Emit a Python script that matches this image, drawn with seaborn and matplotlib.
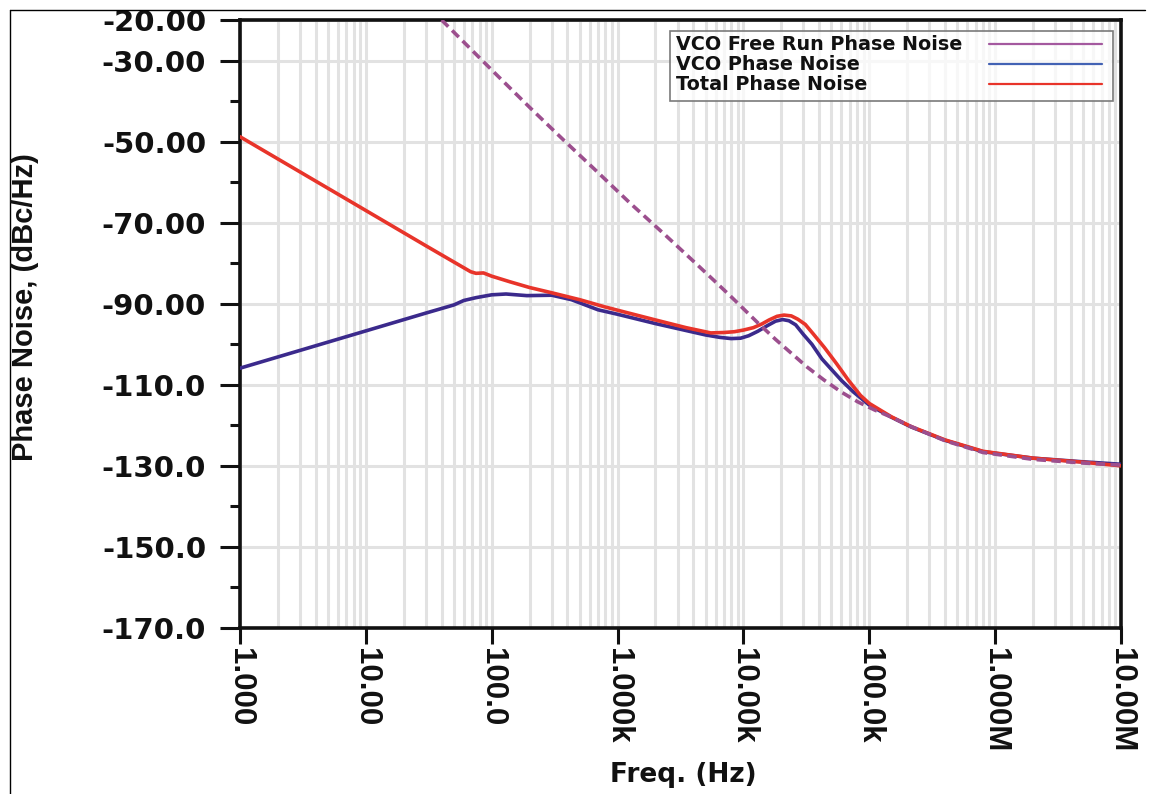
import matplotlib
matplotlib.use("Agg")
import matplotlib.pyplot as plt
from matplotlib import font_manager
from matplotlib.lines import Line2D
from matplotlib.patches import Rectangle
from matplotlib.ticker import LogLocator, NullFormatter
import pandas as pd
import seaborn as sns

# ---- data: offset frequency (Hz) and phase noise (dBc/Hz) ----
free_run_freq = [40, 110, 204, 372, 692, 1259, 2344, 4266, 5900, 7943, 12900,
                 18000, 24000, 32000, 43600, 60000, 81000, 110000, 148000,
                 215000, 400000, 800000, 2e6, 5e6, 1e7]
free_run_pn = [-20.0, -33.6, -41.8, -49.6, -57.5, -65.2, -72.8, -80.3, -84.4,
               -88.2, -94.6, -98.8, -102.2, -105.6, -108.8, -111.8, -114.2,
               -116.2, -117.9, -120.3, -123.8, -126.7, -128.4, -129.3, -129.8]

vco_freq = [1, 10, 30, 50, 60, 75, 100, 130, 190, 300, 430, 700, 1000, 2000,
            5000, 6500, 8000, 9500, 11000, 13000, 15500, 18000, 20500, 23000,
            26000, 30000, 35000, 42000, 50000, 60000, 75000, 100000, 150000,
            215000, 400000, 800000, 2e6, 5e6, 1e7]
vco_pn = [-105.9, -96.7, -92.3, -90.3, -89.2, -88.5, -87.8, -87.6, -88.0, -87.9,
          -89.0, -91.5, -92.6, -94.9, -97.7, -98.3, -98.6, -98.5, -97.9, -96.8,
          -95.4, -94.3, -93.9, -94.2, -95.2, -97.6, -100.0, -103.6, -106.2,
          -108.9, -111.8, -115.0, -118.0, -120.4, -123.7, -126.5, -128.1,
          -129.0, -129.6]

total_freq = [1, 10, 30, 50, 68, 75, 86, 100, 140, 200, 300, 500, 776, 1000, 2000,
              3500, 5500, 7000, 8500, 10000, 12000, 14000, 16000, 18500, 21000,
              24000, 27000, 31000, 36000, 44000, 55000, 68000, 85000, 100000,
              150000, 215000, 400000, 800000, 2e6, 5e6, 1e7]
total_pn = [-48.8, -67.0, -75.7, -79.7, -82.1, -82.5, -82.4, -83.2, -84.6, -86.0,
            -87.3, -89.0, -90.7, -91.6, -94.0, -95.9, -97.2, -97.1, -96.9, -96.5,
            -95.9, -95.0, -94.0, -93.1, -92.8, -93.0, -93.8, -95.1, -97.5,
            -100.8, -104.8, -108.8, -112.6, -114.6, -117.9, -120.3, -123.6,
            -126.4, -128.1, -129.1, -130.0]

series_names = ["VCO Free Run Phase Noise", "VCO Phase Noise", "Total Phase Noise"]

x_ticks = [1, 10, 100, 1e3, 1e4, 1e5, 1e6, 1e7]
x_tick_labels = ["1.000", "10.00", "100.0", "1.000k", "10.00k", "100.0k",
                 "1.000M", "10.00M"]
y_ticks = [-20, -30, -50, -70, -90, -110, -130, -150, -170]
y_tick_labels = ["-20.00", "-30.00", "-50.00", "-70.00", "-90.00", "-110.0",
                 "-130.0", "-150.0", "-170.0"]
y_minor_ticks = [-40, -60, -80, -100, -120, -140, -160]

# ---- styling ----
sns.set_theme(style="white")
plt.rcParams["font.family"] = ["DejaVu Sans"]

available = {f.name for f in font_manager.fontManager.ttflist}
if "Liberation Sans Narrow" in available:
    xtick_family, xtick_size = "Liberation Sans Narrow", 27
else:
    xtick_family, xtick_size = "Liberation Sans", 22.5

c_free = "#9c4f8e"
c_vco = "#3b2a8c"
c_total = "#e8342a"
c_free_key = "#a4599f"
c_vco_key = "#4262b4"
grid_c = "#e2e2e2"

fig = plt.figure(figsize=(11.55, 7.94), dpi=100)
ax = fig.add_axes([240 / 1155, 166 / 794, 881 / 1155, 608 / 794])
ax.set_xscale("log")

vco_df = pd.DataFrame({"freq": vco_freq, "pn": vco_pn})
total_df = pd.DataFrame({"freq": total_freq, "pn": total_pn})
free_df = pd.DataFrame({"freq": free_run_freq, "pn": free_run_pn})

sns.lineplot(data=vco_df, x="freq", y="pn", ax=ax, color=c_vco, lw=2.6,
             estimator=None, sort=False, zorder=3)
sns.lineplot(data=total_df, x="freq", y="pn", ax=ax, color=c_total, lw=2.6,
             estimator=None, sort=False, zorder=4)
sns.lineplot(data=free_df, x="freq", y="pn", ax=ax, color=c_free, lw=2.6,
             linestyle=(0, (2.6, 1.5)), estimator=None, sort=False, zorder=5)

ax.set_xlim(1, 1e7)
ax.set_ylim(-170, -20)

# axes ticks
ax.set_xticks(x_ticks)
ax.set_xticklabels(x_tick_labels)
ax.xaxis.set_minor_locator(LogLocator(base=10, subs=[2, 3, 4, 5, 6, 7, 8, 9], numticks=20))
ax.xaxis.set_minor_formatter(NullFormatter())
ax.set_yticks(y_ticks)
ax.set_yticklabels(y_tick_labels)
ax.set_yticks(y_minor_ticks, minor=True)

ax.tick_params(axis="x", which="major", direction="out", length=11.5, width=2.2,
               pad=3, colors="#111111", bottom=True)
ax.tick_params(axis="x", which="minor", length=0, bottom=True)
ax.tick_params(axis="y", which="major", direction="out", length=14.4, width=2.2,
               pad=10, colors="#111111", left=True)
ax.tick_params(axis="y", which="minor", direction="out", length=7.2, width=2.2,
               colors="#111111", left=True)

for lab in ax.get_xticklabels():
    lab.set_fontfamily(xtick_family)
    lab.set_fontsize(xtick_size)
    lab.set_fontweight("bold")
    lab.set_rotation(-90)
    lab.set_ha("center")
    lab.set_va("top")
for lab in ax.get_yticklabels():
    lab.set_fontfamily("DejaVu Sans")
    lab.set_fontsize(21)
    lab.set_fontweight("bold")

# grid
ax.set_axisbelow(True)
ax.grid(False)
ax.grid(True, which="both", axis="x", color=grid_c, lw=2.2)
ax.grid(True, which="major", axis="y", color=grid_c, lw=2.2)

for side in ["left", "right", "top", "bottom"]:
    ax.spines[side].set_visible(True)
    ax.spines[side].set_color("#111111")
    ax.spines[side].set_linewidth(2.6)

ax.set_xlabel("")
ax.set_ylabel("")

# axis titles
fig.text(683 / 1155, 1 - 775 / 794, "Freq. (Hz)", ha="center", va="center",
         fontsize=19, fontweight="bold", family="DejaVu Sans", color="#111111")
fig.text(25 / 1155, 1 - 307 / 794, "Phase Noise, (dBc/Hz)", ha="center",
         va="center", rotation=90, fontsize=21, fontweight="bold",
         family="Liberation Sans", color="#111111")

# key box with labels on the left and line samples on the right
box = Rectangle((0.488, 0.867), 0.503, 0.115, transform=ax.transAxes,
                facecolor="white", alpha=0.75, edgecolor="none", zorder=6)
ax.add_patch(box)
frame = Rectangle((0.488, 0.867), 0.503, 0.115, transform=ax.transAxes,
                  facecolor="none", edgecolor="#7a7a7a", lw=1.2, zorder=7)
ax.add_patch(frame)
key_colors = [c_free_key, c_vco_key, c_total]
key_y = [0.9605, 0.9276, 0.8947]
for name, col, yy in zip(series_names, key_colors, key_y):
    ax.text(0.4949, yy, name, transform=ax.transAxes, ha="left", va="center",
            fontsize=13.8, fontweight="bold", family="DejaVu Sans",
            color="#111111", zorder=8)
    ax.add_line(Line2D([0.850, 0.978], [yy, yy], transform=ax.transAxes,
                       color=col, lw=1.6, zorder=8))

# outer frame lines
fig.add_artist(Line2D([10 / 1155, 1145 / 1155], [1 - 10 / 794, 1 - 10 / 794],
                      transform=fig.transFigure, color="black", lw=1.0))
fig.add_artist(Line2D([10 / 1155, 10 / 1155], [0, 1 - 10 / 794],
                      transform=fig.transFigure, color="black", lw=1.0))

fig.savefig("out.png", dpi=100, facecolor="white")
